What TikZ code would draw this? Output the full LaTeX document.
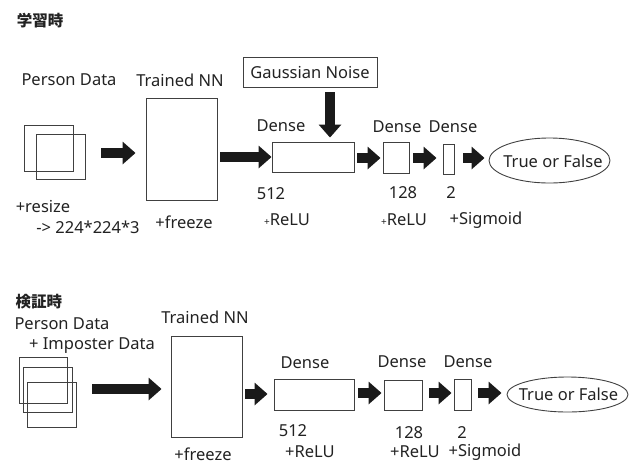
\documentclass[tikz,border=0pt]{standalone}
\usepackage{fontspec}
\setmainfont{Noto Sans}
\newfontfamily\jpfont{Noto Sans CJK JP}
\usetikzlibrary{arrows.meta,positioning,shapes.geometric,calc}
\definecolor{edgegray}{HTML}{404040}
\definecolor{arrowblack}{HTML}{1A1A1A}
\definecolor{txtgray}{HTML}{222222}
\newcommand\lblfont{\fontsize{16.5}{19}\selectfont}
\newcommand\ttlfont{\jpfont\bfseries\fontsize{15.5}{17}\selectfont}
\newcommand\smallplus{{\fontsize{10}{12}\selectfont+}}

\begin{document}
\begin{tikzpicture}[x=1pt, y=-1pt, every node/.style={text=txtgray},
  lbl/.style={inner sep=0pt, font=\lblfont},
  box/.style={draw=edgegray, line width=0.9pt, inner sep=0pt},
  blk/.style={draw=arrowblack, line width=10pt, -{Triangle[length=13pt,width=22pt]}}]

  \useasboundingbox (0,0) rectangle (637,464);

  % ---- training (top) ----
  \node[font=\ttlfont, inner sep=0pt] (ttlA) at (40,21) {学習時};

  \node[lbl] (pdA) at (69,80) {Person Data};
  \node[lbl] (tnA) at (180,80) {Trained NN};
  \node[box, lbl, minimum width=134pt, minimum height=30pt] (noise) at (310,72) {Gaussian Noise};

  % Input images
  \node[box, minimum width=49pt, minimum height=46pt] (sqA) at (48.5,148) {};
  \node[box, minimum width=49pt, minimum height=45pt] (sqB) at (60.5,156.5) {};

  % Network and dense layers
  \node[box, minimum width=71pt, minimum height=102pt] (nnA) at (181.5,149) {};
  \node[box, minimum width=82pt, minimum height=30pt] (dA1) at (313,157) {};
  \node[box, minimum width=26pt, minimum height=31pt] (dA2) at (396,157.5) {};
  \node[box, minimum width=11pt, minimum height=30pt] (dA3) at (448.5,159) {};
  \node[box, ellipse, minimum width=121pt, minimum height=45pt] (outA) at (549.5,160.5) {};
  \node[lbl] (tfA) at ($(outA.center)+(3.5,1)$) {True or False};

  \node[lbl] (dnA1) at (281,126) {Dense};
  \node[lbl] (dnA2) at (397,127) {Dense};
  \node[lbl] (dnA3) at (453,127) {Dense};

  \node[lbl] (szA1) at (271,194) {512};
  \node[lbl] (szA2) at (403,193) {128};
  \node[lbl] (szA3) at (451,193) {2};
  \node[lbl] (acA1) at (287,220) {\smallplus ReLU};
  \node[lbl] (acA2) at (404,220) {\smallplus ReLU};
  \node[lbl] (acA3) at (486,220) {+Sigmoid};

  \node[lbl] (rsA) at (43,206) {+resize};
  \node[lbl] (dimA) at (88,227) {-> 224*224*3};
  \node[lbl] (frA) at (184,222) {+freeze};

  % Arrows
  \draw[blk] ($(sqB.east)+(16,-3.5)$) -- ($(nnA.west)+(-10,4)$);
  \draw[blk] ($(nnA.east)+(3,8)$) -- (dA1.west);
  \draw[blk] ($(dA1.east)+(3,1)$) -- ($(dA2.west)+(-2,0.5)$);
  \draw[blk] ($(dA2.east)+(4,0.5)$) -- ($(dA3.west)+(-6,-1)$);
  \draw[blk] ($(dA3.east)+(9,-1)$) -- ($(outA.west)+(-4,-2.5)$);
  \draw[blk] ($(noise.south)+(20,5)$) -- ($(dA1.north)+(17,-4)$);

  % ---- validation (bottom) ----
  \node[font=\ttlfont, inner sep=0pt] (ttlB) at (39,302) {検証時};

  \node[lbl] (pdB) at (62,324) {Person Data};
  \node[lbl] (ipB) at (92,346) {+ Imposter Data};
  \node[lbl] (tnB) at (205,317) {Trained NN};

  % Input images
  \node[box, minimum width=48pt, minimum height=46pt] (sqC) at (43,380) {};
  \node[box, minimum width=49pt, minimum height=45pt] (sqD) at (47.5,389.5) {};
  \node[box, minimum width=49pt, minimum height=45pt] (sqE) at (51.5,404.5) {};

  % Network and dense layers
  \node[box, minimum width=71pt, minimum height=101pt] (nnB) at (206.5,386.5) {};
  \node[box, minimum width=80pt, minimum height=31pt] (dB1) at (314,394.5) {};
  \node[box, minimum width=38pt, minimum height=30pt] (dB2) at (403,395) {};
  \node[box, minimum width=17pt, minimum height=31pt] (dB3) at (462.5,394.5) {};
  \node[box, ellipse, minimum width=121pt, minimum height=35pt] (outB) at (567.5,394.5) {};
  \node[lbl] (tfB) at ($(outB.center)+(1,0)$) {True or False};

  \node[lbl] (dnB1) at (305,363) {Dense};
  \node[lbl] (dnB2) at (402,362) {Dense};
  \node[lbl] (dnB3) at (468,362) {Dense};

  \node[lbl] (szB1) at (293,431) {512};
  \node[lbl] (szB2) at (409,433) {128};
  \node[lbl] (szB3) at (462,433) {2};
  \node[lbl] (acB1) at (310,452) {+ReLU};
  \node[lbl] (acB2) at (415,452) {+ReLU};
  \node[lbl] (acB3) at (485,452) {+Sigmoid};

  \node[lbl] (frB) at (203,454) {+freeze};

  % Arrows
  \draw[blk] ($(sqD.east)+(20,-0.5)$) -- ($(nnB.west)+(-9,2.5)$);
  \draw[blk] ($(nnB.east)+(3,7.5)$) -- ($(dB1.west)+(-6,-0.5)$);
  \draw[blk] ($(dB1.east)+(4,-1.5)$) -- ($(dB2.west)+(-2,-2)$);
  \draw[blk] ($(dB2.east)+(7,-2)$) -- ($(dB3.west)+(-2,-1.5)$);
  \draw[blk] ($(dB3.east)+(7,-1.5)$) -- ($(outB.west)+(-5,-1.5)$);

\end{tikzpicture}
\end{document}
